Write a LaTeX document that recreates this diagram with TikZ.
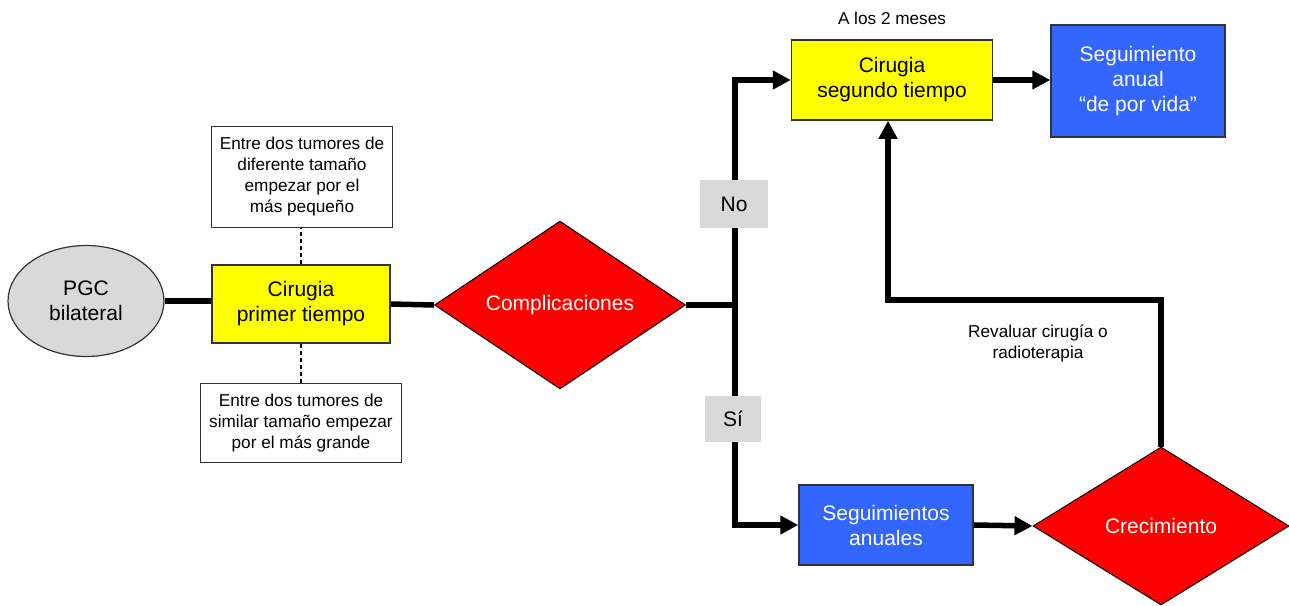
\documentclass[tikz,border=0pt]{standalone}
\usepackage{fontspec}
\setmainfont{Liberation Sans}
\usetikzlibrary{shapes.geometric,arrows.meta,positioning}
\definecolor{amarillo}{HTML}{FFFF00}
\definecolor{azul}{HTML}{3366FF}
\definecolor{rojo}{HTML}{FF0000}
\definecolor{gris}{HTML}{D9D9D9}
\tikzset{
    caja/.style={draw=black!80,line width=1.5pt,align=center,inner sep=0pt,font=\fontsize{21}{25}\selectfont},
    nota/.style={draw=black!80,line width=1.2pt,fill=white,align=center,inner sep=0pt,font=\fontsize{17.2}{21}\selectfont},
    rombo/.style={diamond,draw,line width=1pt,fill=rojo,text=white,inner sep=0pt,font=\fontsize{21}{25}\selectfont},
    etiq/.style={fill=gris,inner sep=0pt,font=\fontsize{21}{25}\selectfont},
    texto/.style={align=center,inner sep=0pt,font=\fontsize{17.2}{21}\selectfont},
    linea/.style={line width=5.5pt},
    guion/.style={line width=1.8pt,dash pattern=on 4pt off 3pt},
}
\begin{document}
\begin{tikzpicture}[x=1pt,y=-1pt,>={Triangle[length=18pt,width=18pt]}]
    \useasboundingbox (0,0) rectangle (1289,605);
    \node[ellipse,draw=black!80,line width=1.2pt,fill=gris,minimum width=156pt,minimum height=111pt,
        inner sep=0pt,align=center,font=\fontsize{21}{25}\selectfont] (pgc) at (86,301) {PGC\\bilateral};
    \node[caja,fill=amarillo,minimum width=178pt,minimum height=78pt] (cir1) at (301,304) {Cirugia\\primer tiempo};
    \node[nota,minimum width=181pt,minimum height=101pt] (notasup) at (302,177)
        {Entre dos tumores de\\diferente tamaño\\empezar por el\\más pequeño};
    \node[nota,minimum width=201pt,minimum height=79pt] (notainf) at (301,423)
        {Entre dos tumores de\\similar tamaño empezar\\por el más grande};
    \node[rombo,minimum width=251pt,minimum height=160pt] (compl) at (560,305) {Complicaciones};
    \node[caja,fill=amarillo,minimum width=201pt,minimum height=80pt] (cir2) at (892,80) {Cirugia\\segundo tiempo};
    \node[texto] (meses) at (892,18) {A los 2 meses};
    \node[caja,fill=azul,text=white,minimum width=174pt,minimum height=112pt] (vida) at (1138,81)
        {Seguimiento\\anual\\“de por vida”};
    \node[caja,fill=azul,text=white,minimum width=174pt,minimum height=80pt] (anuales) at (886,525)
        {Seguimientos\\anuales};
    \node[rombo,minimum width=256pt,minimum height=158pt] (crec) at (1161,526) {Crecimiento};
    \node[texto] (reval) at (1038,343) {Revaluar cirugía o\\radioterapia};
\draw[guion] (cir1.north) -- (cir1.north |- notasup.south);
\draw[guion] (cir1.south) -- (cir1.south |- notainf.north);
\draw[linea] (pgc.east) -- (pgc.east -| cir1.west);
\draw[linea] (cir1.east) -- (compl.west);
\coordinate (rama) at (735,305);
\draw[linea] (compl.east) -- (rama);
\draw[linea,->] (rama) |- (cir2.west);
\draw[linea,->] (rama) |- (anuales.west);
\draw[linea,->] (cir2.east) -- (vida.west |- cir2.east);
\draw[linea,->] (anuales.east) -- (crec.west);
\coordinate (vuelta) at (888,300);
\draw[linea,->] (crec.north) |- (vuelta) -- (vuelta |- cir2.south);
    \node[etiq,minimum width=68pt,minimum height=48pt] (no) at (734,204) {No};
    \node[etiq,minimum width=56pt,minimum height=46pt] (si) at (733,419) {Sí};
\end{tikzpicture}
\end{document}
